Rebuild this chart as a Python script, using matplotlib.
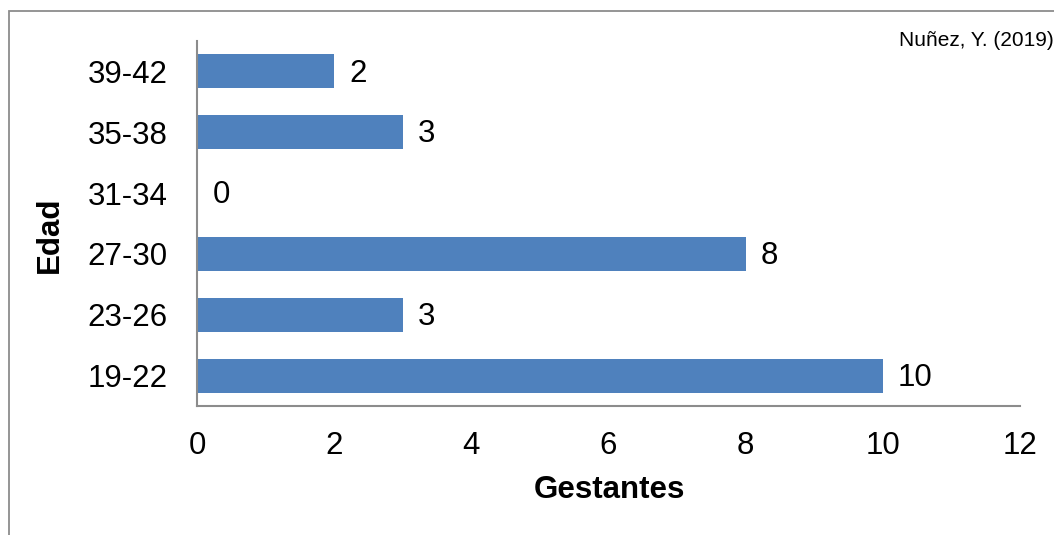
import matplotlib as mpl
import matplotlib.pyplot as plt
from matplotlib.patches import Rectangle

plt.rcParams['font.family'] = ['Liberation Sans', 'DejaVu Sans']

edades = ["19-22", "23-26", "27-30", "31-34", "35-38", "39-42"]
gestantes = [10, 3, 8, 0, 3, 2]
x_ticks = [0, 2, 4, 6, 8, 10, 12]

W, H = 1054, 535
fig = plt.figure(figsize=(W / 100, H / 100), dpi=100)
ax = fig.add_axes([197 / W, 1 - 406 / H, (1020 - 197) / W, (406 - 41) / H])

bar_color = '#4F81BD'
spine_color = '#8C8C8C'
fs = 22.5

bars = ax.barh(edades, gestantes, height=0.56, color=bar_color, zorder=2)
for rect, val in zip(bars, gestantes):
    ax.annotate(str(val), (rect.get_width(), rect.get_y() + rect.get_height() / 2),
                xytext=(11, -1.5), textcoords='offset points', va='center', ha='left', fontsize=fs)

ax.set_xlim(0, 12)
ax.set_ylim(-0.5, 5.5)
ax.set_xticks(x_ticks)
ax.tick_params(axis='both', length=0, labelsize=fs)
ax.tick_params(axis='x', pad=18)
ax.tick_params(axis='y', pad=21)

for side in ['top', 'right']:
    ax.spines[side].set_visible(False)
for side in ['left', 'bottom']:
    ax.spines[side].set_color(spine_color)
    ax.spines[side].set_linewidth(1.5)

fig.text(609 / W, 1 - 490 / H, "Gestantes", ha='center', va='center', fontsize=fs, fontweight='bold')
fig.text(50 / W, 1 - 235 / H, "Edad", ha='center', va='center', rotation=90, fontsize=fs, fontweight='bold')
fig.text(899 / W, 1 - 41 / H, "Nuñez, Y. (2019)", ha='left', va='center', fontsize=15)

# outer frame, open to the right and bottom
fig.patches.append(Rectangle((9 / W, -0.1), 1.2, 1.1 - 11 / H, transform=fig.transFigure,
                             fill=False, edgecolor=spine_color, linewidth=1.3))

fig.savefig("out.png", dpi=100)
